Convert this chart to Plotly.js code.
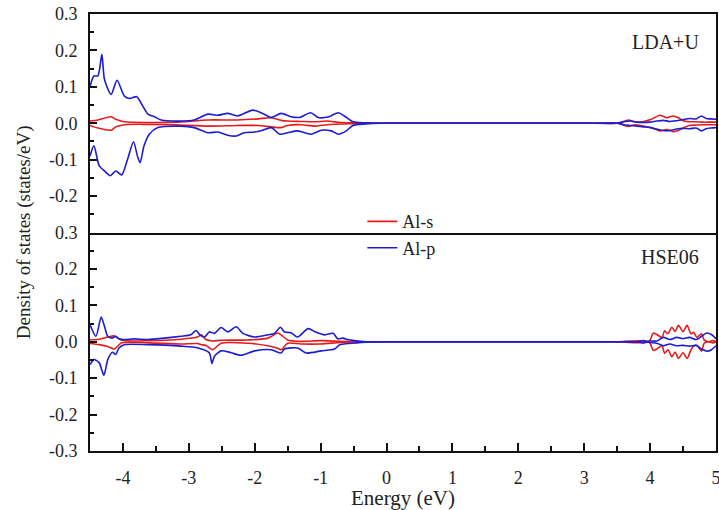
<!DOCTYPE html>
<html>
<head>
<meta charset="utf-8">
<script src="https://cdn.plot.ly/plotly-3.0.1.min.js"></script>
<style>html,body{margin:0;padding:0;background:#fff;}#chart{width:719px;height:510px;}</style>
</head>
<body>
<div id="chart"></div>
<script>
// ---------- LDA+U panel (top) ----------
var ldaPUpE = [-4.5,-4.44,-4.38,-4.32,-4.28,-4.18,-4.09,-3.98,-3.90,-3.79,-3.73,-3.62,-3.52,-3.42,-3.12,-2.92,-2.71,-2.56,-2.41,-2.26,-2.03,-1.88,-1.75,-1.60,-1.45,-1.32,-1.15,-1.04,-0.89,-0.73,-0.64,-0.51,-0.33,-0.1,0.3,3.2,3.5,3.6,3.7,3.8,3.9,4.0,4.1,4.2,4.3,4.4,4.5,4.6,4.7,4.78,4.85,4.92,5.0];
var ldaPUp  = [0.101,0.13,0.13,0.189,0.12,0.079,0.118,0.075,0.068,0.073,0.057,0.025,0.018,0.009,0.006,0.009,0.025,0.022,0.027,0.02,0.036,0.027,0.016,0.027,0.018,0.016,0.029,0.016,0.017,0.029,0.02,0.004,0.001,0,0,0,0,0.004,0.006,0.003,0.002,0.003,0.006,0.008,0.005,0.007,0.010,0.013,0.012,0.02,0.013,0.012,0.011];
var ldaPDnE = [-4.5,-4.44,-4.36,-4.28,-4.19,-4.11,-4.02,-3.93,-3.84,-3.78,-3.74,-3.68,-3.60,-3.47,-3.12,-2.92,-2.71,-2.56,-2.41,-2.28,-2.16,-2.0,-1.88,-1.75,-1.62,-1.5,-1.35,-1.14,-0.99,-0.84,-0.73,-0.61,-0.51,-0.33,-0.1,0.3,3.2,3.5,3.6,3.7,3.8,3.9,4.0,4.1,4.2,4.3,4.4,4.5,4.6,4.7,4.78,4.85,4.92,5.0];
var ldaPDn  = [-0.09,-0.062,-0.117,-0.131,-0.144,-0.131,-0.142,-0.099,-0.051,-0.09,-0.108,-0.062,-0.03,-0.012,-0.008,-0.012,-0.026,-0.024,-0.033,-0.035,-0.026,-0.024,-0.019,-0.012,-0.03,-0.026,-0.021,-0.03,-0.019,-0.021,-0.03,-0.021,-0.006,-0.002,0,0,0,0,-0.004,-0.006,-0.008,-0.01,-0.012,-0.016,-0.02,-0.02,-0.016,-0.014,-0.015,-0.013,-0.021,-0.015,-0.013,-0.012];
var ldaSE   = [-4.5,-4.38,-4.18,-4.11,-3.98,-3.62,-3.2,-2.71,-2.26,-1.95,-1.75,-1.6,-1.5,-1.3,-1.09,-0.9,-0.7,-0.44,-0.2,0.3,3.2,3.5,3.56,3.67,3.77,3.9,4.02,4.15,4.25,4.35,4.43,4.51,4.6,4.7,4.8,4.9,5.0];
var ldaSUp  = [0.006,0.009,0.018,0.011,0.004,0.002,0.003,0.009,0.009,0.012,0.015,0.008,0.006,0.005,0.004,0.006,0.002,0.001,0,0,0,0,0.002,0.009,0.004,0.005,0.011,0.022,0.015,0.02,0.015,0.006,0.004,0.004,0.003,0.003,0.003];
var ldaSDn  = [-0.006,-0.013,-0.019,-0.01,-0.004,-0.003,-0.004,-0.008,-0.006,-0.006,-0.01,-0.012,-0.006,-0.004,-0.008,-0.004,-0.002,-0.001,0,0,0,0,-0.002,-0.009,-0.004,-0.008,-0.012,-0.021,-0.017,-0.023,-0.02,-0.012,-0.006,-0.005,-0.004,-0.004,-0.004];

// ---------- HSE06 panel (bottom) ----------
var hsePUpE = [-4.5,-4.41,-4.33,-4.28,-4.23,-4.16,-4.11,-4.06,-3.98,-3.83,-3.62,-3.37,-3.12,-2.97,-2.89,-2.83,-2.76,-2.69,-2.61,-2.51,-2.41,-2.28,-2.18,-2.0,-1.8,-1.7,-1.61,-1.55,-1.45,-1.35,-1.19,-1.08,-0.94,-0.81,-0.74,-0.66,-0.59,-0.49,-0.3,0.2,3.2,3.5,3.8,3.9,3.95,4.0,4.1,4.2,4.3,4.4,4.5,4.6,4.7,4.78,4.86,4.93,5.0];
var hsePUp  = [0.047,0.015,0.068,0.042,0.015,0.01,0.015,0.008,0.006,0.008,0.006,0.01,0.015,0.019,0.031,0.018,0.013,0.027,0.023,0.039,0.027,0.041,0.023,0.013,0.019,0.023,0.04,0.027,0.025,0.013,0.036,0.027,0.019,0.023,0.008,0.01,0.006,0.003,0,0,0,0,0,0.003,0,0.002,0.002,0.012,0.006,0.012,0.009,0.012,0.006,0.015,0.024,0.02,0.008];
var hsePDnE = [-4.5,-4.44,-4.36,-4.29,-4.23,-4.16,-4.11,-4.06,-3.98,-3.62,-3.12,-2.86,-2.69,-2.65,-2.61,-2.51,-2.36,-2.21,-2.0,-1.75,-1.6,-1.55,-1.35,-1.22,-0.99,-0.79,-0.71,-0.59,-0.44,-0.2,0.2,3.2,3.5,3.8,3.9,3.95,4.0,4.1,4.2,4.3,4.4,4.5,4.6,4.7,4.78,4.87,4.93,5.0];
var hsePDn  = [-0.063,-0.049,-0.058,-0.092,-0.049,-0.029,-0.035,-0.017,-0.008,-0.008,-0.012,-0.017,-0.03,-0.06,-0.039,-0.025,-0.03,-0.037,-0.025,-0.022,-0.031,-0.02,-0.017,-0.031,-0.025,-0.02,-0.008,-0.005,-0.003,0,0,0,0,0,-0.003,0,-0.002,-0.004,-0.011,-0.006,-0.011,-0.01,-0.012,-0.01,-0.02,-0.026,-0.022,-0.011];
var hseSE   = [-4.5,-4.36,-4.23,-4.13,-4.02,-3.6,-3.12,-2.87,-2.81,-2.74,-2.64,-2.51,-2.1,-1.8,-1.65,-1.6,-1.5,-1.3,-1.0,-0.7,-0.4,0.2,3.2,3.5,3.98,4.05,4.1,4.18,4.22,4.27,4.33,4.38,4.43,4.5,4.56,4.62,4.66,4.71,4.78,4.82,4.88,4.95,5.0];
var hseSUp  = [0.005,0.007,0.013,0.016,0.004,0.003,0.007,0.013,0.019,0.006,0.002,0.004,0.005,0.01,0.024,0.019,0.005,0.001,0.003,0.001,0,0,0,0,0,0.024,0.02,0.012,0.03,0.022,0.04,0.028,0.045,0.028,0.045,0.022,0.026,0.012,0.022,0.005,0,0.003,0.001];
var hseSDn  = [-0.005,-0.008,-0.013,-0.02,-0.003,-0.003,-0.006,-0.005,-0.008,-0.01,-0.022,-0.004,-0.004,-0.011,-0.018,-0.022,-0.004,-0.006,-0.006,-0.002,0,0,0,0,0,-0.024,-0.02,-0.011,-0.032,-0.022,-0.041,-0.028,-0.046,-0.03,-0.046,-0.022,-0.012,-0.01,-0.026,-0.004,0,-0.003,-0.001];

// ---------- ticks ----------
var xTickVals = [-4,-3,-2,-1,0,1,2,3,4,5];
var xTickText = ['-4','-3','-2','-1','0','1','2','3','4','5'];
var yTopVals = [-0.2,-0.1,0,0.1,0.2,0.3];
var yTopText = ['-0.2','-0.1','0.0','0.1','0.2','0.3'];
var yBotVals = [-0.3,-0.2,-0.1,0,0.1,0.2,0.3];
var yBotText = ['-0.3','-0.2','-0.1','0.0','0.1','0.2','0.3'];

var RED = '#e51b1b', BLUE = '#1c1cd2';
function tr(x, y, color, xa, ya, name, show) {
  return {x: x, y: y, type: 'scatter', mode: 'lines', xaxis: xa, yaxis: ya,
    line: {color: color, width: 1.6, shape: 'spline', smoothing: 0.7},
    name: name, showlegend: show, legendgroup: name, hoverinfo: 'skip'};
}
var data = [
  tr(ldaSE, ldaSUp, RED, 'x2', 'y2', 'Al-s', true),
  tr(ldaSE, ldaSDn, RED, 'x2', 'y2', 'Al-s', false),
  tr(hseSE, hseSUp, RED, 'x', 'y', 'Al-s', false),
  tr(hseSE, hseSDn, RED, 'x', 'y', 'Al-s', false),
  tr(ldaPUpE, ldaPUp, BLUE, 'x2', 'y2', 'Al-p', true),
  tr(ldaPDnE, ldaPDn, BLUE, 'x2', 'y2', 'Al-p', false),
  tr(hsePUpE, hsePUp, BLUE, 'x', 'y', 'Al-p', false),
  tr(hsePDnE, hsePDn, BLUE, 'x', 'y', 'Al-p', false)
];

var FONT = 'Liberation Serif, Times New Roman, serif';
var tickFont = {family: FONT, size: 18, color: '#222'};
var axBase = {showline: true, linecolor: '#111', linewidth: 2,
  showgrid: false, zeroline: false, ticks: 'inside', tickcolor: '#111', tickwidth: 2};

var layout = {
  width: 719, height: 510,
  margin: {l: 90, r: 3, t: 14, b: 59},
  paper_bgcolor: '#fff', plot_bgcolor: '#fff',
  font: {family: FONT, color: '#222'},
  showlegend: true,
  legend: {x: 0.435, y: 0.567, xanchor: 'left', yanchor: 'top', bgcolor: 'rgba(0,0,0,0)',
    font: {family: FONT, size: 18, color: '#222'}, tracegroupgap: 0, traceorder: 'grouped'},
  xaxis: Object.assign({}, axBase, {domain: [0, 1], anchor: 'y', range: [-4.5, 5], mirror: false,
    tickmode: 'array', tickvals: xTickVals, ticktext: xTickText, ticklen: 8,
    minor: {ticks: 'inside', tickmode: 'linear', tick0: -4.5, dtick: 1, ticklen: 5, tickcolor: '#111', tickwidth: 2},
    tickfont: tickFont, ticklabelstandoff: 9, ticklabeloverflow: 'allow',
    title: {text: 'Energy (eV)', font: {family: FONT, size: 21, color: '#222'}, standoff: 4}}),
  xaxis2: Object.assign({}, axBase, {domain: [0, 1], anchor: 'y2', matches: 'x', range: [-4.5, 5], mirror: true,
    ticks: '', showticklabels: false}),
  yaxis: Object.assign({}, axBase, {domain: [0, 0.5], anchor: 'x', range: [-0.3, 0.3], mirror: true,
    tickmode: 'array', tickvals: yBotVals, ticktext: yBotText, ticklen: 7,
    minor: {ticks: 'inside', tickmode: 'linear', tick0: -0.25, dtick: 0.1, ticklen: 4, tickcolor: '#111', tickwidth: 2},
    tickfont: tickFont, ticklabelstandoff: 7}),
  yaxis2: Object.assign({}, axBase, {domain: [0.5, 1], anchor: 'x2', range: [-0.3, 0.3], mirror: true,
    tickmode: 'array', tickvals: yTopVals, ticktext: yTopText, ticklen: 7,
    minor: {ticks: 'inside', tickmode: 'linear', tick0: -0.25, dtick: 0.1, ticklen: 4, tickcolor: '#111', tickwidth: 2},
    tickfont: tickFont, ticklabelstandoff: 7}),
  annotations: [
    {text: 'Density of states (states/eV)', xref: 'paper', yref: 'paper', x: -0.106, y: 0.5,
      xanchor: 'center', yanchor: 'middle', textangle: -90, showarrow: false,
      font: {family: FONT, size: 19, color: '#222'}},
    {text: 'LDA+U', xref: 'paper', yref: 'paper', x: 0.976, y: 0.936, xanchor: 'right', yanchor: 'middle',
      showarrow: false, font: {family: FONT, size: 20, color: '#222'}},
    {text: 'HSE06', xref: 'paper', yref: 'paper', x: 0.976, y: 0.444, xanchor: 'right', yanchor: 'middle',
      showarrow: false, font: {family: FONT, size: 20, color: '#222'}}
  ]
};

Plotly.newPlot('chart', data, layout, {staticPlot: true, displayModeBar: false});
</script>
</body>
</html>
